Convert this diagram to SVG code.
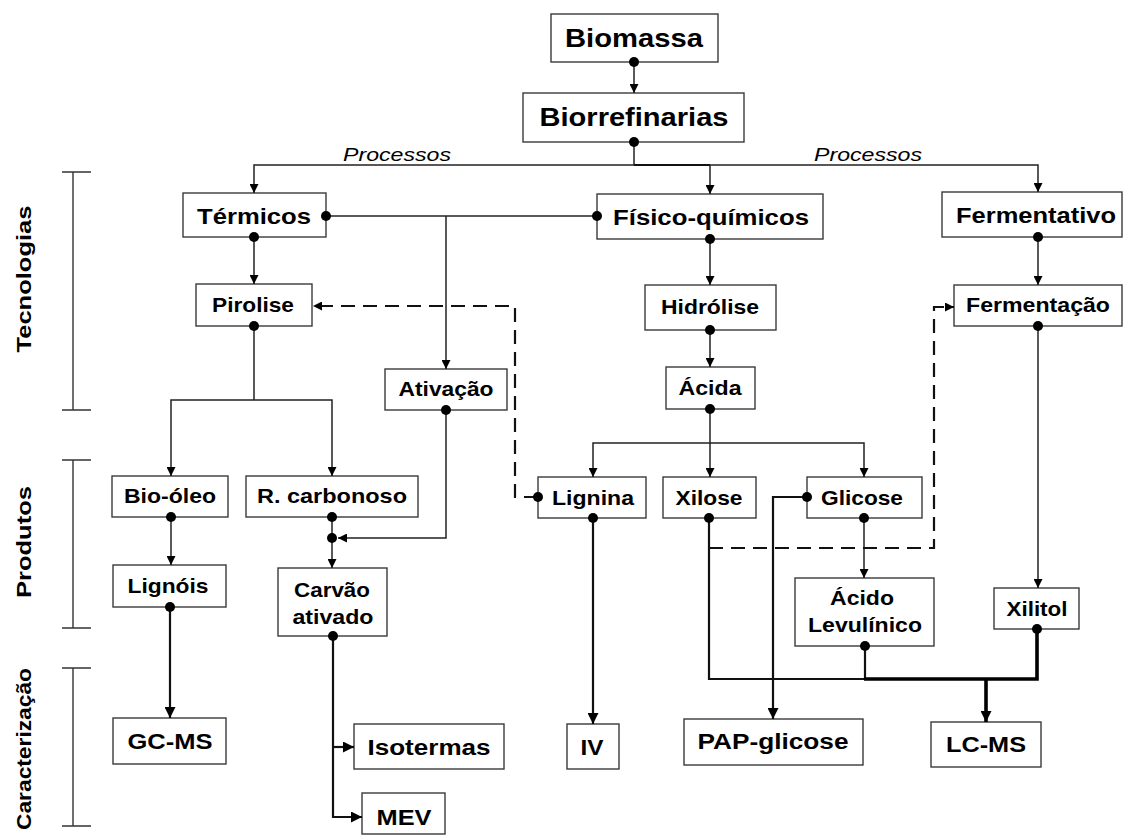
<svg xmlns="http://www.w3.org/2000/svg" width="1127" height="835" viewBox="0 0 1127 835">
<style>
  .box { fill: #ffffff; stroke: #3a3a3a; stroke-width: 1.4; }
  .t { font-family: "Liberation Sans", Arial, sans-serif; font-weight: bold; fill: #000; text-anchor: middle; }
  .t21 { font-size: 21px; }
  .t22 { font-size: 22px; }
  .t26 { font-size: 26px; }
  .it { font-family: "Liberation Sans", Arial, sans-serif; font-style: italic; font-size: 18px; fill: #000; text-anchor: middle; }
  .ln { fill: none; stroke: #222; stroke-width: 1.5; }
  .med { fill: none; stroke: #111; stroke-width: 2.2; }
  .thk { fill: none; stroke: #000; stroke-width: 3.6; }
  .dash { fill: none; stroke: #111; stroke-width: 2.2; stroke-dasharray: 14 8; }
  .dot { fill: #000; }
  .br { fill: none; stroke: #333; stroke-width: 1.4; }
</style>
<defs>
  <marker id="arr" viewBox="0 0 10 10" refX="10" refY="5" markerWidth="9" markerHeight="9" markerUnits="userSpaceOnUse" orient="auto">
    <path d="M0,0 L10,5 L0,10 z" fill="#000"/>
  </marker>
  <marker id="arrL" viewBox="0 0 10 10" refX="10" refY="5" markerWidth="11" markerHeight="11" markerUnits="userSpaceOnUse" orient="auto">
    <path d="M0,0 L10,5 L0,10 z" fill="#000"/>
  </marker>
</defs>

<!-- side labels and brackets -->
<g id="side">
  <path class="br" d="M62,172 H91 M73,172 V410 M62,410 H91"/>
  <path class="br" d="M62,460 H91 M73,460 V628 M62,628 H91"/>
  <path class="br" d="M62,668 H91 M73,668 V826 M62,826 H91"/>
  <text class="t t21" x="31" y="279" transform="rotate(-90 31 279)" textLength="147" lengthAdjust="spacingAndGlyphs">Tecnologias</text>
  <text class="t t21" x="31" y="542" transform="rotate(-90 31 542)" textLength="112" lengthAdjust="spacingAndGlyphs">Produtos</text>
  <text class="t t21" x="31" y="749" transform="rotate(-90 31 749)" textLength="162" lengthAdjust="spacingAndGlyphs">Caracterização</text>
</g>

<g id="biomassa"><rect class="box" x="551" y="14" width="167" height="48"/><text class="t t26" x="634" y="47" textLength="138" lengthAdjust="spacingAndGlyphs">Biomassa</text></g>
<g id="biorrefinarias"><rect class="box" x="523" y="93" width="221" height="49"/><text class="t t26" x="634" y="126" textLength="189" lengthAdjust="spacingAndGlyphs">Biorrefinarias</text></g>
<g id="termicos"><rect class="box" x="183" y="193" width="143" height="44"/><text class="t t22" x="254" y="224" textLength="114" lengthAdjust="spacingAndGlyphs">Térmicos</text></g>
<g id="fisico-quimicos"><rect class="box" x="597" y="194" width="226" height="45"/><text class="t t22" x="711" y="225" textLength="196" lengthAdjust="spacingAndGlyphs">Físico-químicos</text></g>
<g id="fermentativo"><rect class="box" x="942" y="192" width="180" height="45"/><text class="t t22" x="1036" y="223" textLength="160" lengthAdjust="spacingAndGlyphs">Fermentativo</text></g>
<g id="pirolise"><rect class="box" x="196" y="284" width="116" height="42"/><text class="t t21" x="253" y="312" textLength="82" lengthAdjust="spacingAndGlyphs">Pirolise</text></g>
<g id="ativacao"><rect class="box" x="385" y="369" width="122" height="41"/><text class="t t21" x="446" y="396" textLength="95" lengthAdjust="spacingAndGlyphs">Ativação</text></g>
<g id="hidrolise"><rect class="box" x="645" y="285" width="131" height="45"/><text class="t t21" x="710" y="314" textLength="98" lengthAdjust="spacingAndGlyphs">Hidrólise</text></g>
<g id="acida"><rect class="box" x="666" y="367" width="89" height="42"/><text class="t t21" x="710" y="395" textLength="63" lengthAdjust="spacingAndGlyphs">Ácida</text></g>
<g id="fermentacao"><rect class="box" x="954" y="285" width="168" height="41"/><text class="t t21" x="1038" y="312" textLength="144" lengthAdjust="spacingAndGlyphs">Fermentação</text></g>
<g id="bio-oleo"><rect class="box" x="112" y="476" width="116" height="41"/><text class="t t21" x="170" y="503" textLength="92" lengthAdjust="spacingAndGlyphs">Bio-óleo</text></g>
<g id="r-carbonoso"><rect class="box" x="246" y="476" width="172" height="41"/><text class="t t21" x="332" y="503" textLength="150" lengthAdjust="spacingAndGlyphs">R. carbonoso</text></g>
<g id="lignina"><rect class="box" x="538" y="477" width="108" height="41"/><text class="t t21" x="593" y="505" textLength="82" lengthAdjust="spacingAndGlyphs">Lignina</text></g>
<g id="xilose"><rect class="box" x="663" y="477" width="93" height="41"/><text class="t t21" x="709" y="505" textLength="67" lengthAdjust="spacingAndGlyphs">Xilose</text></g>
<g id="glicose"><rect class="box" x="807" y="477" width="115" height="41"/><text class="t t21" x="862" y="505" textLength="82" lengthAdjust="spacingAndGlyphs">Glicose</text></g>
<g id="lignois"><rect class="box" x="113" y="565" width="113" height="42"/><text class="t t21" x="168" y="593" textLength="81" lengthAdjust="spacingAndGlyphs">Lignóis</text></g>
<g id="carvao-ativado"><rect class="box" x="278" y="568" width="109" height="68"/><text class="t t21" x="332" y="597" textLength="76" lengthAdjust="spacingAndGlyphs">Carvão</text><text class="t t21" x="333" y="624" textLength="81" lengthAdjust="spacingAndGlyphs">ativado</text></g>
<g id="acido-levulinico"><rect class="box" x="795" y="578" width="139" height="68"/><text class="t t21" x="862" y="605" textLength="64" lengthAdjust="spacingAndGlyphs">Ácido</text><text class="t t21" x="865" y="632" textLength="114" lengthAdjust="spacingAndGlyphs">Levulínico</text></g>
<g id="xilitol"><rect class="box" x="994" y="588" width="85" height="41"/><text class="t t21" x="1037" y="616" textLength="61" lengthAdjust="spacingAndGlyphs">Xilitol</text></g>
<g id="gc-ms"><rect class="box" x="113" y="718" width="113" height="46"/><text class="t t22" x="170" y="749" textLength="85" lengthAdjust="spacingAndGlyphs">GC-MS</text></g>
<g id="isotermas"><rect class="box" x="354" y="724" width="150" height="45"/><text class="t t22" x="429" y="755" textLength="123" lengthAdjust="spacingAndGlyphs">Isotermas</text></g>
<g id="mev"><rect class="box" x="362" y="793" width="83" height="41"/><text class="t t22" x="404" y="825" textLength="55" lengthAdjust="spacingAndGlyphs">MEV</text></g>
<g id="iv"><rect class="box" x="567" y="724" width="52" height="45"/><text class="t t22" x="592" y="755" textLength="23" lengthAdjust="spacingAndGlyphs">IV</text></g>
<g id="pap-glicose"><rect class="box" x="684" y="719" width="179" height="46"/><text class="t t22" x="773" y="749" textLength="151" lengthAdjust="spacingAndGlyphs">PAP-glicose</text></g>
<g id="lc-ms"><rect class="box" x="931" y="722" width="110" height="45"/><text class="t t22" x="986" y="752" textLength="80" lengthAdjust="spacingAndGlyphs">LC-MS</text></g>

<g id="connectors">
  <text class="it" x="397" y="161" textLength="108" lengthAdjust="spacingAndGlyphs">Processos</text>
  <text class="it" x="868" y="161" textLength="108" lengthAdjust="spacingAndGlyphs">Processos</text>

  <path class="ln" d="M634,62 V93" marker-end="url(#arr)"/>
  <path class="ln" d="M634,142 V165"/>
  <path class="ln" d="M634,165 H254 V193" marker-end="url(#arr)"/>
  <path class="ln" d="M634,165 H1038 V192" marker-end="url(#arr)"/>
  <path class="med" d="M634,165 H710"/>
  <path class="ln" d="M710,165 V194" marker-end="url(#arr)"/>

  <path class="ln" d="M326,216 H597"/>
  <path class="ln" d="M446,216 V369" marker-end="url(#arr)"/>
  <path class="ln" d="M254,237 V284" marker-end="url(#arr)"/>
  <path class="ln" d="M710,239 V285" marker-end="url(#arr)"/>
  <path class="ln" d="M710,330 V367" marker-end="url(#arr)"/>
  <path class="ln" d="M710,409 V443"/>
  <path class="ln" d="M710,443 H593 V477" marker-end="url(#arr)"/>
  <path class="ln" d="M710,443 H864 V477" marker-end="url(#arr)"/>
  <path class="ln" d="M710,443 V477" marker-end="url(#arr)"/>
  <path class="ln" d="M1038,237 V285" marker-end="url(#arr)"/>
  <path class="ln" d="M1038,326 V588" marker-end="url(#arr)"/>

  <path class="ln" d="M254,326 V400"/>
  <path class="ln" d="M254,400 H171 V476" marker-end="url(#arr)"/>
  <path class="ln" d="M254,400 H332 V476" marker-end="url(#arr)"/>
  <path class="ln" d="M171,517 V565" marker-end="url(#arr)"/>
  <path class="ln" d="M332,517 V568" marker-end="url(#arr)"/>
  <path class="ln" d="M446,410 V538 H338" marker-end="url(#arr)"/>
  <path class="ln" d="M864,518 V578" marker-end="url(#arr)"/>

  <path class="med" d="M170,607 V718" marker-end="url(#arrL)"/>
  <path class="med" d="M333,636 V817 H362" marker-end="url(#arrL)"/>
  <path class="med" d="M333,747 H354" marker-end="url(#arrL)"/>
  <path class="med" d="M593,518 V724" marker-end="url(#arrL)"/>
  <path class="med" d="M807,497 H773 V719" marker-end="url(#arrL)"/>
  <path class="med" d="M709,518 V679 H866"/>
  <path class="med" d="M865,646 V679"/>
  <path class="thk" d="M864,679 H1037 V629"/>
  <path class="thk" d="M986,679 V722" marker-end="url(#arrL)"/>

  <path class="dash" d="M538,497 H515 V306 H313" marker-end="url(#arr)"/>
  <path class="dash" d="M709,548 H934 V307 H954" marker-end="url(#arr)"/>

  <circle class="dot" cx="634" cy="62" r="5"/>
  <circle class="dot" cx="634" cy="142" r="5"/>
  <circle class="dot" cx="326" cy="216" r="5"/>
  <circle class="dot" cx="597" cy="216" r="5"/>
  <circle class="dot" cx="254" cy="237" r="5"/>
  <circle class="dot" cx="710" cy="239" r="5"/>
  <circle class="dot" cx="1038" cy="237" r="5"/>
  <circle class="dot" cx="254" cy="326" r="5"/>
  <circle class="dot" cx="710" cy="330" r="5"/>
  <circle class="dot" cx="1038" cy="326" r="5"/>
  <circle class="dot" cx="446" cy="410" r="5"/>
  <circle class="dot" cx="710" cy="409" r="5"/>
  <circle class="dot" cx="171" cy="517" r="5"/>
  <circle class="dot" cx="332" cy="517" r="5"/>
  <circle class="dot" cx="332" cy="538" r="5"/>
  <circle class="dot" cx="538" cy="497" r="5"/>
  <circle class="dot" cx="593" cy="518" r="5"/>
  <circle class="dot" cx="709" cy="518" r="5"/>
  <circle class="dot" cx="807" cy="497" r="5"/>
  <circle class="dot" cx="864" cy="518" r="5"/>
  <circle class="dot" cx="170" cy="607" r="5"/>
  <circle class="dot" cx="333" cy="636" r="5"/>
  <circle class="dot" cx="865" cy="646" r="5"/>
  <circle class="dot" cx="1037" cy="629" r="5"/>
</g>
</svg>
